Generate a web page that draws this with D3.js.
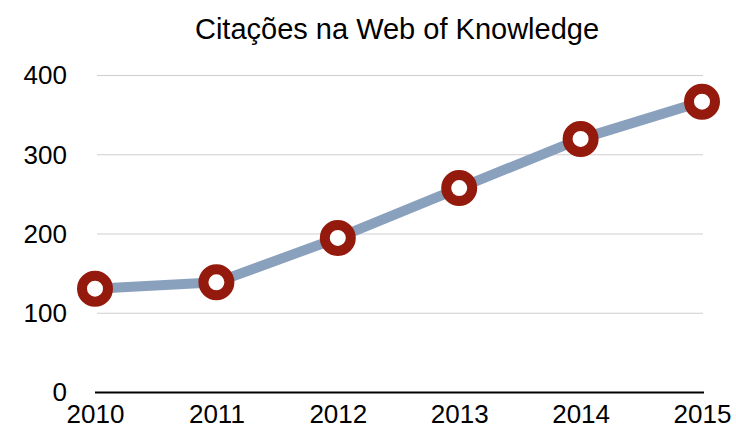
<!DOCTYPE html>
<html><head><meta charset="utf-8">
<script src="https://cdn.jsdelivr.net/npm/d3@7"></script>
<style>body{margin:0;background:#fff}svg{display:block}text{font-family:"Liberation Sans",Arial,sans-serif;fill:#000}</style>
</head><body>
<script>
const title = "Citações na Web of Knowledge";
const years = ["2010","2011","2012","2013","2014","2015"];
const citations = [131, 139, 195, 258, 320, 367];
const yTicks = [0, 100, 200, 300, 400];

const W = 736, H = 429;
const svg = d3.select("body").append("svg").attr("width", W).attr("height", H);
const x = d3.scalePoint().domain(years).range([95, 702]);
const y = d3.scaleLinear().domain([0, 400]).range([392.5, 75.5]);

svg.append("text").attr("x", 397).attr("y", 39).attr("text-anchor", "middle")
  .style("font-size", "29px").text(title);

// gridlines
svg.append("g").selectAll("line").data(yTicks.filter(d => d > 0)).join("line")
  .attr("x1", 97).attr("x2", 703).attr("y1", d => y(d)).attr("y2", d => y(d))
  .attr("stroke", "#cfcfcf").attr("stroke-width", 1);

// y axis labels
const yAxis = d3.axisLeft(y).tickValues(yTicks).tickSize(0).tickPadding(0);
const gy = svg.append("g").attr("transform", "translate(67,0)").call(yAxis);
gy.select(".domain").remove();
gy.selectAll("text").style("font-size", "26px").attr("font-family", null).attr("fill", "#000");

// baseline axis
svg.append("line").attr("x1", 95).attr("x2", 704).attr("y1", y(0)).attr("y2", y(0))
  .attr("stroke", "#000").attr("stroke-width", 2);

// x axis labels
const xAxis = d3.axisBottom(x).tickSize(0).tickPadding(0);
const gx = svg.append("g").attr("transform", `translate(0,${y(0) + 12})`).call(xAxis);
gx.select(".domain").remove();
gx.selectAll("text").style("font-size", "26px").attr("font-family", null).attr("fill", "#000");

// line
const line = d3.line().x((d, i) => x(years[i])).y(d => y(d));
svg.append("path").datum(citations).attr("d", line).attr("fill", "none")
  .attr("stroke", "#8aa1bd").attr("stroke-width", 10).attr("stroke-linejoin", "round");

// markers
svg.append("g").selectAll("circle").data(citations).join("circle")
  .attr("cx", (d, i) => x(years[i])).attr("cy", d => y(d)).attr("r", 13)
  .attr("fill", "#fff").attr("stroke", "#931a0c").attr("stroke-width", 10);
</script>
</body></html>
